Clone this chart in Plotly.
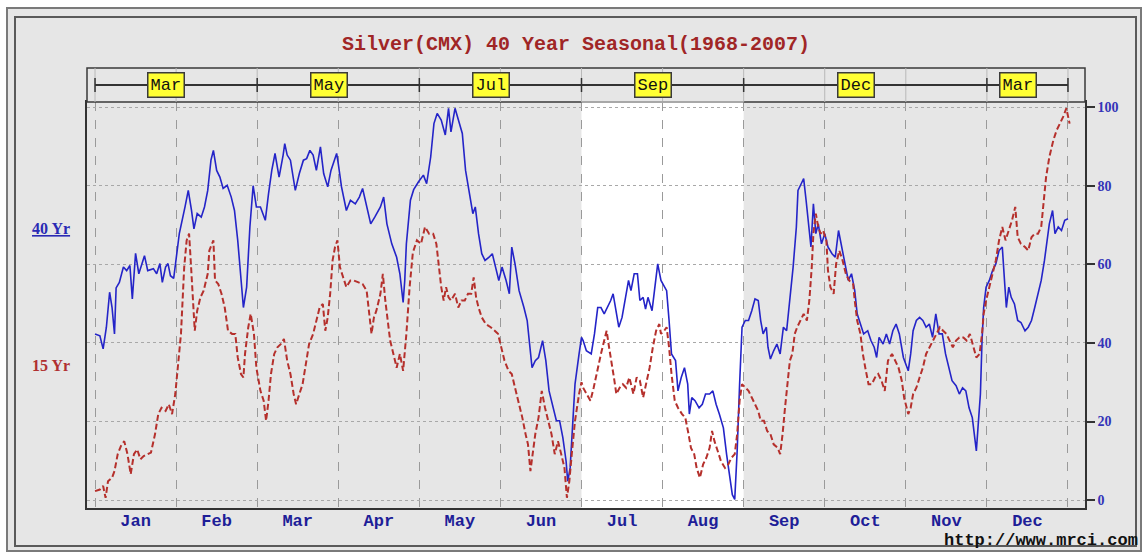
import plotly.graph_objects as go

# ---------------- data ----------------
months = ["Jan", "Feb", "Mar", "Apr", "May", "Jun", "Jul", "Aug", "Sep", "Oct", "Nov", "Dec"]
contracts = ["Mar", "May", "Jul", "Sep", "Dec", "Mar"]
contract_bounds = [0, 2, 4, 6, 8, 11, 12]
y_ticks = [0, 20, 40, 60, 80, 100]

# 40 year seasonal (x in months since Jan 1)
x40 = [0.00, 0.06, 0.10, 0.14, 0.18, 0.21, 0.24, 0.26, 0.30, 0.35, 0.39, 0.43, 0.46, 0.50, 0.54, 0.57, 0.61, 0.65, 0.72, 0.76,
       0.80, 0.83, 0.87, 0.90, 0.93, 0.97, 1.00, 1.04, 1.11, 1.15, 1.19, 1.22, 1.26, 1.31, 1.35, 1.39, 1.43, 1.46, 1.50, 1.54,
       1.58, 1.63, 1.68, 1.72, 1.76, 1.80, 1.83, 1.87, 1.91, 1.95, 1.99, 2.04, 2.10, 2.14, 2.18, 2.22, 2.27, 2.32, 2.34, 2.37,
       2.41, 2.47, 2.52, 2.57, 2.61, 2.65, 2.69, 2.73, 2.78, 2.82, 2.87, 2.91, 2.95, 2.98, 3.00, 3.04, 3.10, 3.15, 3.21, 3.26,
       3.30, 3.34, 3.40, 3.45, 3.52, 3.56, 3.60, 3.66, 3.72, 3.76, 3.80, 3.82, 3.84, 3.89, 3.93, 3.99, 4.05, 4.09, 4.14, 4.18,
       4.22, 4.27, 4.32, 4.36, 4.39, 4.44, 4.49, 4.53, 4.57, 4.62, 4.66, 4.69, 4.73, 4.77, 4.81, 4.86, 4.90, 4.94, 4.98, 5.02,
       5.07, 5.11, 5.14, 5.18, 5.23, 5.29, 5.33, 5.36, 5.39, 5.43, 5.47, 5.52, 5.56, 5.60, 5.65, 5.69, 5.73, 5.77, 5.81, 5.83,
       5.86, 5.89, 5.92, 5.97, 6.00, 6.02, 6.06, 6.12, 6.16, 6.20, 6.24, 6.28, 6.32, 6.36, 6.39, 6.43, 6.46, 6.50, 6.54, 6.58,
       6.61, 6.65, 6.69, 6.72, 6.76, 6.79, 6.82, 6.87, 6.90, 6.94, 6.98, 7.02, 7.05, 7.08, 7.11, 7.16, 7.19, 7.23, 7.27, 7.31,
       7.33, 7.36, 7.40, 7.45, 7.49, 7.53, 7.58, 7.62, 7.66, 7.70, 7.75, 7.79, 7.83, 7.86, 7.89, 7.92, 7.95, 7.98, 8.02, 8.06,
       8.10, 8.14, 8.18, 8.21, 8.24, 8.28, 8.30, 8.33, 8.37, 8.41, 8.45, 8.49, 8.53, 8.57, 8.61, 8.65, 8.67, 8.71, 8.74, 8.77,
       8.80, 8.83, 8.86, 8.89, 8.92, 8.96, 9.00, 9.04, 9.09, 9.13, 9.17, 9.21, 9.25, 9.29, 9.33, 9.37, 9.40, 9.44, 9.48, 9.53,
       9.57, 9.61, 9.64, 9.67, 9.72, 9.76, 9.80, 9.84, 9.88, 9.92, 9.97, 10.03, 10.06, 10.09, 10.13, 10.17, 10.21, 10.25, 10.29, 10.33,
       10.37, 10.41, 10.45, 10.49, 10.53, 10.57, 10.62, 10.66, 10.70, 10.74, 10.78, 10.82, 10.85, 10.87, 10.89, 10.92, 10.94, 10.96, 10.99, 11.03,
       11.07, 11.11, 11.15, 11.19, 11.22, 11.24, 11.27, 11.30, 11.34, 11.38, 11.42, 11.47, 11.51, 11.55, 11.59, 11.63, 11.67, 11.71, 11.74, 11.77,
       11.81, 11.84, 11.88, 11.92, 11.96, 12.00]
v40 = [42.3, 41.8, 38.5, 44.0, 52.9, 49.0, 42.3, 54.0, 55.4, 59.3, 58.4, 59.7, 51.2, 62.8, 57.6, 59.7, 62.2, 58.4, 58.9, 57.6,
       60.2, 55.4, 59.3, 60.2, 57.1, 56.4, 61.0, 67.9, 74.6, 78.8, 73.7, 69.0, 72.9, 72.0, 74.6, 78.8, 86.5, 89.0, 83.9, 82.2,
       79.3, 80.1, 77.1, 73.7, 66.1, 55.0, 49.0, 54.2, 69.5, 80.0, 74.6, 74.6, 71.2, 78.0, 83.9, 88.2, 82.2, 87.8, 90.7, 87.8,
       86.5, 78.8, 83.1, 86.5, 86.9, 89.0, 87.8, 83.9, 89.9, 83.1, 79.7, 83.9, 86.5, 88.2, 85.6, 79.7, 73.7, 76.3, 75.4, 77.1,
       79.3, 75.4, 70.3, 72.0, 74.6, 77.1, 70.3, 65.2, 61.8, 57.6, 50.3, 55.9, 65.2, 76.3, 79.0, 81.0, 82.7, 80.5, 87.3, 95.8,
       98.4, 96.7, 92.9, 99.7, 93.7, 99.7, 95.8, 93.3, 83.9, 78.0, 72.9, 74.6, 67.8, 62.7, 61.0, 61.8, 62.7, 59.3, 55.9, 59.3,
       55.9, 52.5, 64.4, 60.1, 53.3, 49.0, 45.7, 39.7, 33.7, 35.5, 36.3, 40.6, 35.5, 27.8, 23.5, 20.2, 20.2, 15.9, 9.9, 4.8,
       8.2, 20.2, 29.5, 37.2, 41.4, 40.6, 38.0, 37.2, 42.3, 49.0, 49.0, 47.4, 49.0, 50.8, 52.5, 48.2, 44.0, 46.5, 50.8, 55.9,
       53.3, 57.6, 57.6, 50.8, 51.6, 48.6, 51.6, 48.2, 53.3, 60.1, 55.9, 54.2, 53.3, 45.7, 37.2, 35.5, 27.8, 31.2, 33.7, 29.5,
       21.9, 26.1, 25.3, 23.5, 24.4, 27.0, 27.0, 27.8, 24.4, 21.9, 18.4, 11.6, 5.7, 1.4, 0.2, 12.5, 29.5, 44.0, 45.7, 45.7,
       48.2, 51.2, 50.8, 45.7, 42.3, 44.0, 38.9, 35.9, 38.0, 39.7, 37.2, 44.0, 43.1, 50.8, 59.3, 69.5, 78.8, 80.5, 81.8, 76.3,
       69.5, 64.4, 75.4, 67.8, 70.3, 65.2, 67.8, 64.4, 62.7, 61.8, 68.6, 64.4, 59.3, 55.9, 57.6, 53.3, 47.4, 44.8, 42.3, 43.1,
       40.6, 38.9, 36.3, 41.4, 39.7, 42.3, 39.7, 43.1, 44.8, 42.3, 36.3, 32.9, 37.2, 43.1, 45.7, 46.5, 45.7, 44.0, 44.8, 41.4,
       47.4, 42.3, 42.3, 37.2, 33.7, 30.4, 29.1, 27.0, 28.6, 27.8, 23.5, 21.0, 15.9, 12.5, 18.4, 27.0, 40.6, 49.0, 54.2, 55.9,
       58.4, 60.1, 63.5, 64.4, 55.0, 49.0, 54.2, 51.6, 49.9, 45.7, 45.2, 43.1, 44.0, 45.7, 49.0, 52.5, 55.9, 61.0, 66.1, 70.3,
       73.7, 67.8, 69.5, 68.6, 71.2, 71.6]

# 15 year seasonal
x15 = [0.00, 0.06, 0.10, 0.13, 0.16, 0.21, 0.24, 0.28, 0.32, 0.36, 0.40, 0.44, 0.48, 0.52, 0.56, 0.60, 0.65, 0.69, 0.74, 0.78,
       0.82, 0.87, 0.91, 0.95, 0.99, 1.02, 1.06, 1.08, 1.10, 1.13, 1.16, 1.18, 1.21, 1.23, 1.26, 1.30, 1.34, 1.39, 1.41, 1.46,
       1.48, 1.52, 1.56, 1.60, 1.64, 1.69, 1.73, 1.76, 1.80, 1.83, 1.85, 1.89, 1.92, 1.96, 1.99, 2.04, 2.08, 2.11, 2.14, 2.17,
       2.21, 2.25, 2.29, 2.33, 2.37, 2.41, 2.45, 2.48, 2.52, 2.56, 2.60, 2.64, 2.69, 2.73, 2.77, 2.81, 2.84, 2.87, 2.90, 2.93,
       2.96, 2.99, 3.02, 3.06, 3.10, 3.15, 3.19, 3.25, 3.30, 3.35, 3.38, 3.41, 3.44, 3.47, 3.52, 3.55, 3.58, 3.61, 3.64, 3.68,
       3.72, 3.76, 3.80, 3.84, 3.88, 3.92, 3.97, 4.02, 4.07, 4.12, 4.17, 4.21, 4.24, 4.27, 4.30, 4.33, 4.36, 4.39, 4.44, 4.48,
       4.52, 4.56, 4.60, 4.64, 4.67, 4.70, 4.73, 4.77, 4.82, 4.88, 4.93, 4.97, 5.01, 5.05, 5.10, 5.14, 5.18, 5.23, 5.27, 5.31,
       5.34, 5.37, 5.40, 5.43, 5.47, 5.51, 5.55, 5.59, 5.63, 5.67, 5.71, 5.75, 5.79, 5.82, 5.85, 5.88, 5.92, 5.97, 6.00, 6.02,
       6.06, 6.11, 6.15, 6.20, 6.24, 6.28, 6.31, 6.34, 6.37, 6.40, 6.43, 6.47, 6.51, 6.55, 6.59, 6.64, 6.68, 6.72, 6.76, 6.80,
       6.84, 6.88, 6.92, 6.96, 6.98, 7.02, 7.05, 7.08, 7.11, 7.15, 7.19, 7.24, 7.28, 7.32, 7.35, 7.39, 7.42, 7.46, 7.50, 7.54,
       7.58, 7.61, 7.64, 7.68, 7.72, 7.77, 7.81, 7.85, 7.89, 7.92, 7.95, 7.98, 8.02, 8.06, 8.10, 8.14, 8.18, 8.21, 8.25, 8.29,
       8.33, 8.37, 8.42, 8.45, 8.48, 8.51, 8.54, 8.57, 8.60, 8.63, 8.66, 8.70, 8.74, 8.78, 8.81, 8.84, 8.86, 8.89, 8.92, 8.95,
       8.98, 9.02, 9.04, 9.07, 9.11, 9.14, 9.18, 9.22, 9.26, 9.30, 9.35, 9.37, 9.40, 9.44, 9.47, 9.50, 9.54, 9.58, 9.62, 9.66,
       9.70, 9.74, 9.78, 9.83, 9.87, 9.91, 9.95, 9.98, 10.03, 10.06, 10.09, 10.13, 10.17, 10.21, 10.25, 10.29, 10.33, 10.38, 10.42, 10.46,
       10.50, 10.54, 10.58, 10.62, 10.66, 10.71, 10.75, 10.79, 10.83, 10.87, 10.91, 10.94, 10.96, 10.99, 11.03, 11.07, 11.11, 11.15, 11.19, 11.23,
       11.27, 11.31, 11.35, 11.38, 11.42, 11.47, 11.51, 11.55, 11.59, 11.63, 11.67, 11.70, 11.73, 11.77, 11.82, 11.86, 11.90, 11.94, 11.98, 12.02]
v15 = [2.3, 2.7, 3.6, 0.6, 4.8, 5.7, 7.4, 11.7, 13.8, 15.0, 11.7, 6.6, 11.7, 12.9, 10.4, 11.2, 11.7, 12.1, 16.8, 21.9,
       23.5, 22.7, 24.4, 21.9, 27.0, 33.7, 42.3, 50.8, 59.3, 66.1, 67.8, 61.0, 49.0, 43.1, 48.2, 51.6, 53.3, 57.6, 63.5, 66.1,
       55.9, 55.0, 52.5, 49.0, 43.1, 42.3, 42.3, 36.3, 32.1, 31.2, 37.2, 44.0, 47.4, 42.3, 33.7, 27.8, 25.3, 20.2, 25.3, 32.1,
       37.2, 38.9, 39.7, 41.0, 35.5, 32.1, 27.0, 24.4, 27.0, 29.5, 34.6, 39.7, 42.3, 45.7, 49.0, 49.9, 43.1, 46.5, 52.5, 61.0,
       64.4, 66.1, 59.3, 56.7, 54.2, 55.9, 55.9, 55.4, 55.0, 53.3, 47.4, 42.3, 46.5, 48.2, 52.5, 57.6, 50.8, 45.7, 40.6, 37.2,
       33.7, 37.2, 32.9, 42.3, 54.2, 63.0, 66.1, 65.2, 69.5, 67.8, 67.8, 65.2, 60.1, 54.2, 50.8, 54.2, 51.6, 50.8, 52.5, 49.0,
       50.8, 50.8, 52.5, 52.5, 56.7, 51.6, 49.0, 46.5, 44.8, 44.0, 43.1, 42.3, 38.9, 35.5, 32.9, 32.1, 28.6, 24.4, 21.0, 16.8,
       14.2, 7.4, 11.7, 16.8, 21.0, 27.8, 23.5, 20.2, 16.8, 11.7, 15.0, 11.7, 8.2, 0.6, 4.8, 11.7, 20.2, 27.0, 30.0, 28.6,
       27.0, 25.3, 28.6, 33.7, 37.2, 40.6, 43.1, 38.9, 35.5, 31.2, 27.0, 28.6, 29.5, 28.6, 31.2, 27.0, 31.2, 30.4, 26.1, 29.5,
       33.7, 38.9, 43.1, 44.8, 42.3, 43.1, 44.0, 38.9, 32.1, 25.3, 23.5, 21.9, 21.0, 16.8, 13.3, 11.7, 8.2, 5.7, 9.1, 10.8,
       13.3, 17.6, 15.0, 12.5, 9.9, 8.2, 9.1, 10.8, 11.7, 16.8, 25.3, 29.5, 28.6, 27.8, 26.1, 24.4, 22.7, 20.2, 20.2, 17.6,
       16.8, 14.2, 13.3, 11.7, 16.8, 23.5, 30.4, 35.5, 37.2, 42.3, 44.0, 45.7, 47.4, 45.7, 50.8, 59.3, 67.8, 72.9, 69.5, 67.8,
       68.6, 66.1, 58.4, 54.2, 52.5, 60.1, 63.5, 61.0, 57.6, 55.9, 55.0, 50.8, 45.7, 42.3, 37.2, 33.7, 29.5, 29.5, 31.2, 32.1,
       30.4, 27.8, 35.5, 37.2, 35.5, 33.7, 30.4, 26.0, 21.9, 23.5, 27.0, 28.6, 31.2, 33.7, 37.2, 38.9, 40.6, 42.3, 44.0, 43.1,
       42.3, 40.6, 38.9, 40.6, 41.4, 41.4, 40.6, 42.3, 38.9, 36.3, 37.2, 42.3, 47.4, 50.8, 54.2, 57.6, 61.0, 66.1, 69.5, 66.1,
       68.6, 71.2, 74.6, 66.9, 65.2, 64.4, 63.5, 66.9, 67.8, 67.8, 69.5, 76.3, 82.2, 87.3, 91.6, 94.1, 95.8, 97.5, 99.7, 95.8]

# ---------------- styling ----------------
MONO = "Liberation Mono"
SERIF = "Liberation Serif"
BG = "#E6E6E6"
BLUE = "#2424C8"
RED = "#B5302C"

fig = go.Figure()
fig.add_trace(go.Scatter(x=x40, y=v40, mode="lines", name="40 Yr",
                         line=dict(color=BLUE, width=1.6), showlegend=False))
fig.add_trace(go.Scatter(x=x15, y=v15, mode="lines", name="15 Yr",
                         line=dict(color=RED, width=2, dash="6px,3px"), showlegend=False))

W, H = 1145, 554
ML, MR, MT, MB = 87, 60, 102, 46
pw = W - ML - MR
ph = H - MT - MB


def px_x(p):
    return (p - ML) / pw


def px_y(p):
    return (H - MB - p) / ph


shapes = []
# outer frames
shapes.append(dict(type="rect", xref="paper", yref="paper", x0=px_x(7), x1=px_x(1141), y0=px_y(551), y1=px_y(8),
                   fillcolor=BG, line=dict(color="#7A7A7A", width=2), layer="below"))
shapes.append(dict(type="rect", xref="paper", yref="paper", x0=px_x(15), x1=px_x(1136), y0=px_y(546), y1=px_y(17),
                   fillcolor="rgba(0,0,0,0)", line=dict(color="#5A5A5A", width=2), layer="below"))
# white band for Jul-Aug
shapes.append(dict(type="rect", xref="x", yref="paper", x0=contract_bounds[3], x1=contract_bounds[4], y0=0, y1=1,
                   fillcolor="white", line=dict(width=0), layer="below"))
# contract bar
bar_top = px_y(68)
bar_mid = px_y(85)
tick_h = 7 / ph
shapes.append(dict(type="rect", xref="paper", yref="paper", x0=0, x1=1, y0=1, y1=bar_top,
                   fillcolor=BG, line=dict(color="#3A3A3A", width=1.5)))
for m in range(13):
    shapes.append(dict(type="line", xref="x", yref="paper", x0=m, x1=m, y0=1, y1=bar_top,
                       line=dict(color="#B8B8B8", width=1)))
shapes.append(dict(type="line", xref="x", yref="paper", x0=contract_bounds[0], x1=contract_bounds[-1],
                   y0=bar_mid, y1=bar_mid, line=dict(color="#333333", width=2)))
for b in contract_bounds:
    shapes.append(dict(type="line", xref="x", yref="paper", x0=b, x1=b, y0=bar_mid - tick_h, y1=bar_mid + tick_h,
                       line=dict(color="#333333", width=1.5)))
shapes.append(dict(type="line", xref="x", yref="paper", x0=contract_bounds[3], x1=contract_bounds[4], y0=1, y1=1,
                   line=dict(color="#A8A8A8", width=2)))

annotations = []
for i, name in enumerate(contracts):
    cx = (contract_bounds[i] + contract_bounds[i + 1]) / 2 - 0.12
    annotations.append(dict(x=cx, y=bar_mid, xref="x", yref="paper", text=name, showarrow=False,
                            xanchor="center", yanchor="middle",
                            font=dict(family=MONO, size=17, color="#111111"),
                            bgcolor="#FFFF33", bordercolor="#3A3A3A", borderwidth=1.5, borderpad=2))
annotations.append(dict(x=px_x(576), y=px_y(45), xref="paper", yref="paper", xanchor="center", yanchor="middle",
                        text="Silver(CMX) 40 Year Seasonal(1968-2007)", showarrow=False,
                        font=dict(family=MONO, size=20, color="#A02626", weight="bold")))
annotations.append(dict(x=px_x(51), y=px_y(228), xref="paper", yref="paper", xanchor="center", yanchor="middle",
                        text="<u>40 Yr</u>", showarrow=False,
                        font=dict(family=SERIF, size=16, color="#2A2AB4", weight="bold")))
annotations.append(dict(x=px_x(51), y=px_y(365), xref="paper", yref="paper", xanchor="center", yanchor="middle",
                        text="15 Yr", showarrow=False,
                        font=dict(family=SERIF, size=16, color="#B03030", weight="bold")))
annotations.append(dict(x=px_x(1140), y=px_y(540), xref="paper", yref="paper", xanchor="right", yanchor="middle",
                        text="http://www.mrci.com", showarrow=False,
                        font=dict(family=MONO, size=17, color="#111111", weight="bold")))

fig.update_layout(
    width=W, height=H,
    margin=dict(l=ML, r=MR, t=MT, b=MB, pad=0),
    paper_bgcolor="white",
    plot_bgcolor=BG,
    shapes=shapes,
    annotations=annotations,
    xaxis=dict(range=[-0.099, 12.21], tickmode="array",
               tickvals=[i + 0.5 for i in range(len(months))], ticktext=months,
               showgrid=False, zeroline=False, ticks="", ticklabelstandoff=-4,
               showline=True, mirror=True, linecolor="#333333", linewidth=1.5,
               tickfont=dict(family=MONO, size=17, color="#1E1E98", weight="bold"),
               minor=dict(tickmode="array", tickvals=list(range(13)), showgrid=True,
                          gridcolor="#9A9A9A", griddash="dash", gridwidth=1, ticks="")),
    yaxis=dict(range=[-2.0, 101.3], side="right", tickmode="array", tickvals=y_ticks,
               ticks="outside", ticklen=8, tickcolor="#333333", tickwidth=1.5,
               showgrid=True, gridcolor="#A8A8A8", griddash="dot", gridwidth=1, zeroline=False,
               showline=True, mirror=True, linecolor="#333333", linewidth=1.5,
               tickfont=dict(family=SERIF, size=14, color="#3434B8", weight="bold")),
)

fig.write_html("out.html", config={"displayModeBar": False},
               post_script="document.body.style.margin='0';document.body.style.overflow='hidden';")
